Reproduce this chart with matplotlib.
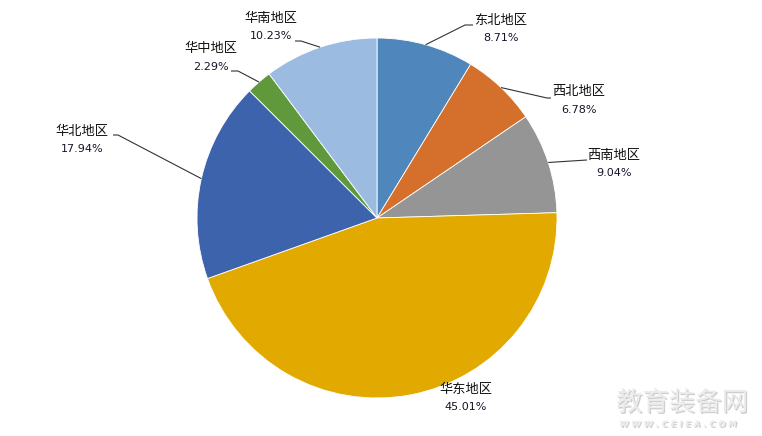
import numpy as np
import matplotlib
matplotlib.use("Agg")
import matplotlib.pyplot as plt
import matplotlib.patheffects as pe

plt.rcParams['font.family'] = ['Noto Sans CJK SC', 'DejaVu Sans']

regions = ["东北地区", "西北地区", "西南地区", "华东地区", "华北地区", "华中地区", "华南地区"]
shares = [8.71, 6.78, 9.04, 45.01, 17.94, 2.29, 10.23]
colors = ["#4f87bd", "#d4702b", "#959595", "#e2aa00", "#3e63ad", "#5f993c", "#9bbbe1"]

W, H = 762, 436
fig = plt.figure(figsize=(W / 100, H / 100), dpi=100)
ax = fig.add_axes([0, 0, 1, 1])

cx, cy, R = 377, H - 218, 180
wedges, _ = ax.pie(shares, colors=colors, startangle=90, counterclock=False,
                   center=(cx, cy), radius=R, frame=True,
                   wedgeprops=dict(edgecolor='white', linewidth=0.6))
ax.set_xlim(0, W)
ax.set_ylim(0, H)
ax.set_aspect('equal')
ax.axis('off')

# label block centres (x, y of name line) and leader-line path (elbow, end) in pixel coords (y down)
label_pos = {
    "东北地区": (501, 20, [(465, 25), (473, 25)]),
    "西北地区": (579, 92, [(547, 98), (551, 98)]),
    "西南地区": (614, 155, [(587, 160)]),
    "华东地区": (466, 389, None),
    "华北地区": (82, 131, [(118, 135), (113, 135)]),
    "华中地区": (211, 49, [(238, 71), (231, 71)]),
    "华南地区": (271, 18, [(301, 41), (295, 41)]),
}

start = 90.0
for name, val, w in zip(regions, shares, wedges):
    span = val / 100 * 360
    mid = np.deg2rad(start - span / 2)
    start -= span
    lx, ly, path = label_pos[name]
    ax.text(lx, H - ly, name, ha='center', va='center', fontsize=9.5, color='#111111')
    ax.text(lx, H - ly - 18, f"{val:.2f}%", ha='center', va='center', fontsize=8,
            color='#15152a', family='DejaVu Sans')
    if path:
        px, py = cx + R * np.cos(mid), cy + R * np.sin(mid)
        xs = [px] + [p[0] for p in path]
        ys = [py] + [H - p[1] for p in path]
        ax.plot(xs, ys, color='#333333', linewidth=0.8, solid_capstyle='butt')

# site mark
shadow = [pe.withSimplePatchShadow(offset=(1, -1), shadow_rgbFace='#a0a0a0', alpha=0.5)]
ax.text(682, H - 403, "教育装备网", ha='center', va='center', fontsize=19,
        color='#ececec', style='italic', path_effects=shadow)
ax.text(678, H - 424, " ".join("WWW.CEIEA.COM"), ha='center', va='center', fontsize=6,
        color='#ececec', fontweight='bold', style='italic', path_effects=shadow,
        family='DejaVu Sans')

fig.savefig("out.png", dpi=100, facecolor='white')
